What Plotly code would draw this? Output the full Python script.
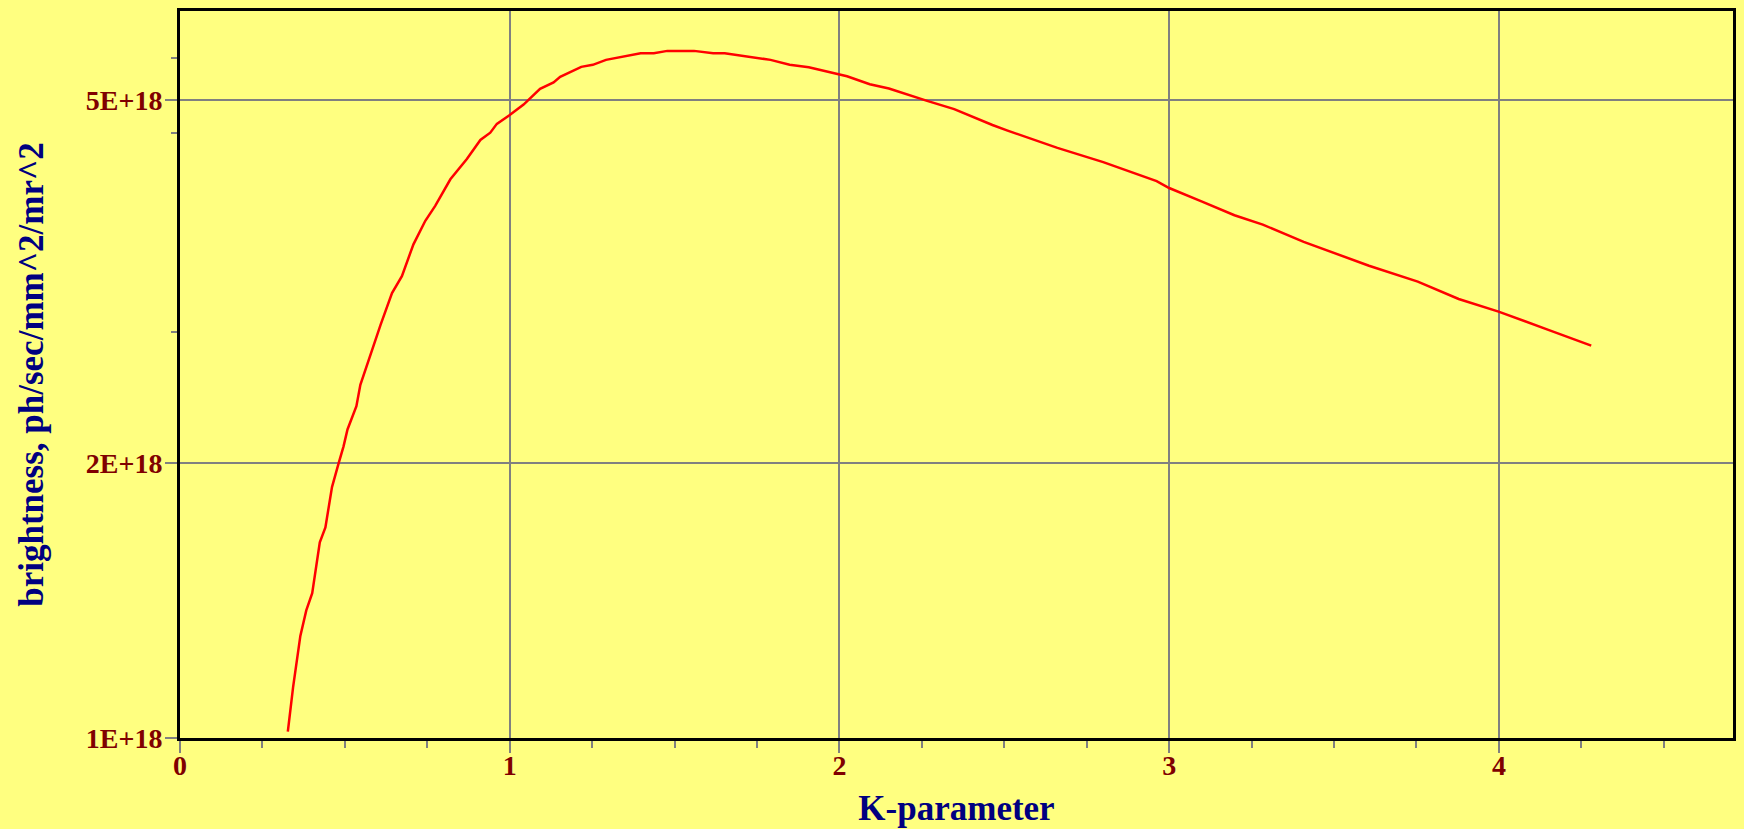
import plotly.graph_objects as go

k_param = [0.327, 0.343, 0.365, 0.383, 0.401, 0.424, 0.441, 0.461, 0.481, 0.496,
           0.508, 0.535, 0.547, 0.577, 0.595, 0.608, 0.643, 0.673, 0.708, 0.744,
           0.774, 0.820, 0.870, 0.911, 0.941, 0.961, 0.998, 1.042, 1.092, 1.133,
           1.153, 1.217, 1.252, 1.292, 1.397, 1.437, 1.478, 1.559, 1.617, 1.652,
           1.791, 1.849, 1.907, 1.998, 2.023, 2.092, 2.150, 2.266, 2.348, 2.464,
           2.510, 2.661, 2.800, 2.962, 3.000, 3.098, 3.198, 3.284, 3.408, 3.606,
           3.754, 3.878, 3.999, 4.150, 4.280]
brightness_e18 = [1.016, 1.137, 1.294, 1.380, 1.441, 1.639, 1.702, 1.884, 2.000, 2.088,
                  2.179, 2.311, 2.439, 2.630, 2.746, 2.836, 3.074, 3.209, 3.477, 3.690,
                  3.832, 4.097, 4.313, 4.525, 4.609, 4.713, 4.812, 4.948, 5.149, 5.232,
                  5.307, 5.442, 5.470, 5.539, 5.632, 5.632, 5.666, 5.666, 5.632, 5.632,
                  5.539, 5.470, 5.437, 5.341, 5.314, 5.209, 5.153, 4.995, 4.891, 4.699,
                  4.633, 4.435, 4.279, 4.079, 4.008, 3.876, 3.742, 3.654, 3.499, 3.294,
                  3.165, 3.029, 2.934, 2.802, 2.692]
brightness = [b * 1e18 for b in brightness_e18]

x_tickvals = [0, 1, 2, 3, 4]
x_ticktext = ["0", "1", "2", "3", "4"]
y_tickvals = [1e18, 2e18, 5e18]
y_ticktext = ["1E+18", "2E+18", "5E+18"]
y_minor_vals = [2.79e18, 4.61e18, 5.56e18]

BG = "#FFFF80"
TICKFONT = dict(family="Liberation Serif, Times New Roman, serif", size=28, color="#800000", weight="bold")
TITLEFONT = dict(family="Liberation Serif, Times New Roman, serif", size=35, color="#000080", weight="bold")

fig = go.Figure()
fig.add_trace(go.Scatter(x=k_param, y=brightness, mode="lines",
                         line=dict(color="#FF0000", width=2.5), showlegend=False,
                         hoverinfo="x+y"))

fig.update_layout(
    width=1744, height=829,
    paper_bgcolor=BG, plot_bgcolor=BG,
    margin=dict(l=180, r=10, t=8, b=91),
    showlegend=False,
)
fig.update_xaxes(
    range=[0, 4.71],
    tickmode="array", tickvals=x_tickvals, ticktext=x_ticktext,
    ticks="outside", ticklen=12, tickwidth=2, tickcolor="#808080",
    tickfont=TICKFONT, ticklabelstandoff=-12,
    showgrid=True, gridcolor="#808080", gridwidth=2,
    zeroline=False,
    showline=True, linecolor="black", linewidth=3, mirror=True,
    minor=dict(dtick=0.25, tick0=0, ticks="outside", ticklen=7, tickwidth=2,
               tickcolor="#808080", showgrid=False),
    title=dict(text="K-parameter", font=TITLEFONT, standoff=16),
)
fig.update_yaxes(
    type="log",
    range=[18, 18.797],
    tickmode="array", tickvals=y_tickvals, ticktext=y_ticktext,
    ticks="outside", ticklen=12, tickwidth=2, tickcolor="#808080",
    tickfont=TICKFONT, ticklabelstandoff=-3,
    showgrid=True, gridcolor="#808080", gridwidth=2,
    zeroline=False,
    showline=True, linecolor="black", linewidth=3, mirror=True,
    minor=dict(tickvals=y_minor_vals, ticks="outside", ticklen=6, tickwidth=2,
               tickcolor="#808080", showgrid=False),
    title=dict(text="brightness, ph/sec/mm^2/mr^2", font=TITLEFONT, standoff=32),
)

fig.write_html("out.html", config={"displayModeBar": False},
               post_script="document.body.style.margin='0';document.body.style.background='#FFFF80';")
